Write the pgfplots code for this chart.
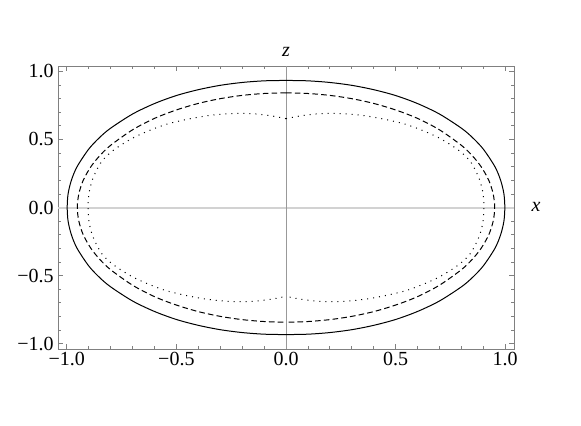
\documentclass[border=0pt]{standalone}
\usepackage{fontspec}
\setmainfont{Liberation Serif}
\usepackage{pgfplots}
\pgfplotsset{compat=1.18}
\begin{document}
\begin{tikzpicture}
\begin{axis}[
    scale only axis,
    width=228pt, height=141.5pt,
    xmin=-1.04, xmax=1.04, ymin=-1.04, ymax=1.04,
    xtick={-1,-0.5,0,0.5,1},
    xticklabels={−1.0,−0.5,0.0,0.5,1.0},
    ytick={-1,-0.5,0,0.5,1},
    yticklabels={−1.0,−0.5,0.0,0.5,1.0},
    minor tick num=4,
    tick align=inside,
    major tick length=2.6pt, minor tick length=1.6pt,
    axis line style={gray, line width=0.5pt},
    every tick/.style={gray, line width=0.4pt},
    xticklabel style={inner sep=1.2pt},
    yticklabel style={inner sep=2pt},
    clip=false,
]
% axes through the origin
\addplot[gray!35, line width=1pt] coordinates {(-1.04,0) (1.04,0)};
\addplot[gray!80, line width=0.5pt] coordinates {(0,-1.04) (0,1.04)};

% solid curve
\addplot[black, line width=0.5pt, smooth] coordinates {
 (0,0.934) (-0.1,0.931) (-0.2,0.919) (-0.3,0.898) (-0.4,0.866) (-0.5,0.823) (-0.6,0.764)
 (-0.7,0.687) (-0.8,0.583) (-0.85,0.515) (-0.9,0.429) (-0.953,0.3) (-0.979,0.2) (-0.994,0.1)
 (-0.998,0)
 (-0.994,-0.1) (-0.979,-0.2) (-0.953,-0.3) (-0.9,-0.429) (-0.85,-0.515) (-0.8,-0.583)
 (-0.7,-0.687) (-0.6,-0.764) (-0.5,-0.823) (-0.4,-0.866) (-0.3,-0.898) (-0.2,-0.919)
 (-0.1,-0.931) (0,-0.934)
};
\addplot[black, line width=0.5pt, smooth] coordinates {
 (0,0.934) (0.1,0.931) (0.2,0.919) (0.3,0.898) (0.4,0.866) (0.5,0.823) (0.6,0.764)
 (0.7,0.687) (0.8,0.583) (0.85,0.515) (0.9,0.429) (0.953,0.3) (0.979,0.2) (0.994,0.1)
 (0.998,0)
 (0.994,-0.1) (0.979,-0.2) (0.953,-0.3) (0.9,-0.429) (0.85,-0.515) (0.8,-0.583)
 (0.7,-0.687) (0.6,-0.764) (0.5,-0.823) (0.4,-0.866) (0.3,-0.898) (0.2,-0.919)
 (0.1,-0.931) (0,-0.934)
};

% dashed curve
\addplot[black, line width=0.5pt, smooth, dash pattern=on 2.8pt off 1.6pt] coordinates {
 (0,0.843) (-0.1,0.838) (-0.2,0.824) (-0.3,0.800) (-0.4,0.765) (-0.5,0.717) (-0.6,0.655)
 (-0.7,0.571) (-0.8,0.457) (-0.85,0.380) (-0.89,0.300) (-0.925,0.200) (-0.945,0.100)
 (-0.952,0)
 (-0.945,-0.100) (-0.925,-0.200) (-0.89,-0.300) (-0.85,-0.380) (-0.8,-0.457) (-0.7,-0.571)
 (-0.6,-0.655) (-0.5,-0.717) (-0.4,-0.765) (-0.3,-0.800) (-0.2,-0.824) (-0.1,-0.838)
 (0,-0.843)
};
\addplot[black, line width=0.5pt, smooth, dash pattern=on 2.8pt off 1.6pt] coordinates {
 (0,0.843) (0.1,0.838) (0.2,0.824) (0.3,0.800) (0.4,0.765) (0.5,0.717) (0.6,0.655)
 (0.7,0.571) (0.8,0.457) (0.85,0.380) (0.89,0.300) (0.925,0.200) (0.945,0.100)
 (0.952,0)
 (0.945,-0.100) (0.925,-0.200) (0.89,-0.300) (0.85,-0.380) (0.8,-0.457) (0.7,-0.571)
 (0.6,-0.655) (0.5,-0.717) (0.4,-0.765) (0.3,-0.800) (0.2,-0.824) (0.1,-0.838)
 (0,-0.843)
};

% dotted curve
\addplot[black, line width=0.5pt, smooth, dash pattern=on 0.5pt off 2.5pt] coordinates {
 (0,0.653) (-0.06,0.672) (-0.12,0.685) (-0.19,0.692) (-0.28,0.688) (-0.37,0.672)
 (-0.46,0.645) (-0.545,0.612) (-0.62,0.568) (-0.69,0.518) (-0.75,0.462) (-0.80,0.405)
 (-0.84,0.34) (-0.865,0.27) (-0.884,0.20) (-0.898,0.11) (-0.903,0)
 (-0.898,-0.11) (-0.884,-0.20) (-0.865,-0.27) (-0.84,-0.34) (-0.80,-0.405) (-0.75,-0.462)
 (-0.69,-0.518) (-0.62,-0.568) (-0.545,-0.612) (-0.46,-0.645) (-0.37,-0.672) (-0.28,-0.688)
 (-0.19,-0.692) (-0.12,-0.685) (-0.06,-0.672) (0,-0.653)
};
\addplot[black, line width=0.5pt, smooth, dash pattern=on 0.5pt off 2.5pt] coordinates {
 (0,0.653) (0.06,0.672) (0.12,0.685) (0.19,0.692) (0.28,0.688) (0.37,0.672)
 (0.46,0.645) (0.545,0.612) (0.62,0.568) (0.69,0.518) (0.75,0.462) (0.80,0.405)
 (0.84,0.34) (0.865,0.27) (0.884,0.20) (0.898,0.11) (0.903,0)
 (0.898,-0.11) (0.884,-0.20) (0.865,-0.27) (0.84,-0.34) (0.80,-0.405) (0.75,-0.462)
 (0.69,-0.518) (0.62,-0.568) (0.545,-0.612) (0.46,-0.645) (0.37,-0.672) (0.28,-0.688)
 (0.19,-0.692) (0.12,-0.685) (0.06,-0.672) (0,-0.653)
};

% axis names
\node[anchor=base, yshift=4.9pt] at (axis cs:0,1.04) {\textit{z}};
\node[anchor=base west, xshift=5.3pt, yshift=-2.2pt] at (axis cs:1.04,0) {\textit{x}};
\end{axis}
\pgfresetboundingbox
\useasboundingbox (-29pt,-38pt) rectangle (261.5pt,174.5pt);
\end{tikzpicture}
\end{document}
